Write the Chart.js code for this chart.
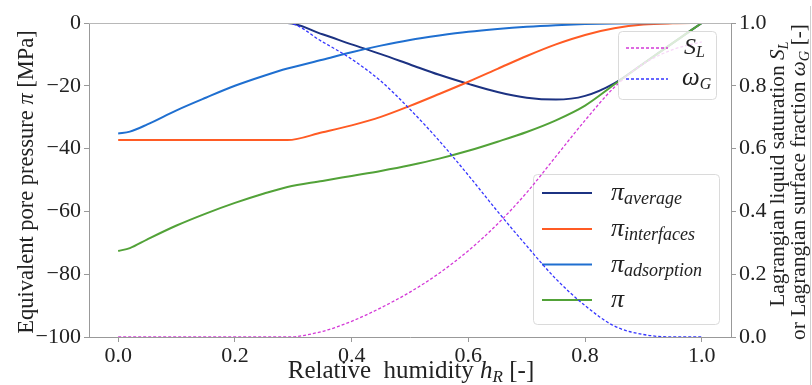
<!DOCTYPE html>
<html>
<head>
<meta charset="utf-8">
<title>Equivalent pore pressure vs relative humidity</title>
<script src="https://cdn.jsdelivr.net/npm/chart.js@4.4.1/dist/chart.umd.min.js"></script>
<style>
  html, body { margin: 0; padding: 0; background: #fff; }
</style>
</head>
<body>
<canvas id="myChart" width="812" height="385"></canvas>
<script>
// relative humidity h_R (x axis)
const hR = [0, 0.02, 0.05, 0.1, 0.15, 0.2, 0.25, 0.29, 0.35, 0.4, 0.45, 0.5, 0.55, 0.6, 0.65, 0.7, 0.75, 0.8, 0.85, 0.9, 0.95, 1.0];

// left axis, MPa
const piAverage    = [0, 0, 0, 0, 0, 0, 0, 0, -3.6, -6.8, -9.9, -13.2, -16.5, -19.4, -22.0, -23.8, -24.4, -23.2, -19.2, -12.9, -6.4, 0];
const piInterfaces = [-37.3, -37.3, -37.3, -37.3, -37.3, -37.3, -37.3, -37.3, -34.8, -32.6, -29.9, -26.4, -22.6, -18.7, -14.6, -10.5, -6.8, -3.8, -1.7, -0.5, -0.1, 0];
const piAdsorption = [-35.2, -34.6, -32.3, -27.8, -23.8, -20.0, -16.8, -14.5, -11.7, -9.3, -7.2, -5.4, -4.0, -2.8, -1.9, -1.2, -0.7, -0.35, -0.15, -0.05, 0, 0];
const piTotal      = [-72.6, -71.7, -68.9, -64.5, -60.7, -57.3, -54.3, -52.2, -50.3, -48.7, -47.1, -45.3, -43.2, -40.7, -37.8, -34.7, -31.0, -26.3, -19.6, -12.9, -6.4, 0];

// right axis, [-]
const satL   = [0, 0, 0, 0, 0, 0, 0, 0, 0.018, 0.05, 0.093, 0.143, 0.203, 0.275, 0.36, 0.46, 0.575, 0.69, 0.795, 0.87, 0.915, 0.94];
const omegaG = [1, 1, 1, 1, 1, 1, 1, 1, 0.94, 0.885, 0.815, 0.725, 0.625, 0.515, 0.40, 0.29, 0.185, 0.10, 0.035, 0.008, 0, 0];

const xTicks = [0, 0.2, 0.4, 0.6, 0.8, 1.0];
const yTicks = [-100, -80, -60, -40, -20, 0];
const y2Ticks = [0, 0.2, 0.4, 0.6, 0.8, 1.0];

const SERIF = '"Liberation Serif", "Times New Roman", serif';
const TEXT = '#222';
const SPINE = '#999';

const toPoints = arr => hR.map((x, i) => ({ x: x, y: arr[i] }));

function richWidth(ctx, parts) {
    let w = 0;
    parts.forEach(p => { ctx.font = p.font; w += ctx.measureText(p.text).width; });
    return w;
}

// draws a run of text pieces (normal / italic / subscript) on one baseline
function drawRich(ctx, parts, x, y, align) {
    let cx = align === 'left' ? x : x - richWidth(ctx, parts) / 2;
    ctx.textAlign = 'left';
    ctx.textBaseline = 'alphabetic';
    parts.forEach(p => {
        ctx.font = p.font;
        ctx.fillText(p.text, cx, y + (p.dy || 0));
        cx += ctx.measureText(p.text).width;
    });
}

const n = s => `${s}px ${SERIF}`;
const it = s => `italic ${s}px ${SERIF}`;

function legendBox(ctx, x, y, w, h) {
    ctx.save();
    ctx.beginPath();
    ctx.roundRect(x, y, w, h, 4);
    ctx.fillStyle = 'rgba(255,255,255,0.8)';
    ctx.fill();
    ctx.strokeStyle = '#dadada';
    ctx.lineWidth = 1;
    ctx.stroke();
    ctx.restore();
}

function legendEntry(ctx, e, x0, x1, tx) {
    ctx.save();
    ctx.beginPath();
    ctx.strokeStyle = e.color;
    ctx.lineWidth = e.width;
    ctx.setLineDash(e.dash || []);
    ctx.moveTo(x0, e.y);
    ctx.lineTo(x1, e.y);
    ctx.stroke();
    ctx.setLineDash([]);
    ctx.fillStyle = TEXT;
    drawRich(ctx, e.parts, tx, e.y + e.base, 'left');
    ctx.restore();
}

const colors = {
    average: '#1c3282',
    interfaces: '#ff5b24',
    adsorption: '#1f6fd0',
    total: '#52a238',
    sat: '#d43ad8',
    omega: '#3535ff'
};

const chartDecor = {
    id: 'chartDecor',
    afterDatasetDraw(chart, args) {
        // legend of the pressure axis sits under the right-axis curves
        if (args.index !== 2) return;
        const ctx = chart.ctx;
        legendBox(ctx, 533.5, 174.5, 186, 150);
        const entries = [
            { y: 193, color: colors.average, parts: [{ text: 'π', font: it(26) }, { text: 'average', font: it(18), dy: 4 }] },
            { y: 229, color: colors.interfaces, parts: [{ text: 'π', font: it(26) }, { text: 'interfaces', font: it(18), dy: 4 }] },
            { y: 264.5, color: colors.adsorption, parts: [{ text: 'π', font: it(26) }, { text: 'adsorption', font: it(18), dy: 4 }] },
            { y: 300, color: colors.total, parts: [{ text: 'π', font: it(26) }] }
        ];
        entries.forEach(e => {
            e.width = 2;
            e.base = 7;
            legendEntry(ctx, e, 542, 592, 611);
        });
    },
    afterDatasetsDraw(chart) {
        const ctx = chart.ctx;
        legendBox(ctx, 618.5, 31.5, 98, 68);
        legendEntry(ctx, { y: 48, color: colors.sat, width: 1.5, dash: [3, 2], base: 6,
            parts: [{ text: 'S', font: it(24) }, { text: 'L', font: it(16), dy: 3 }] }, 626, 668, 684);
        legendEntry(ctx, { y: 79, color: colors.omega, width: 1.5, dash: [3, 2], base: 6,
            parts: [{ text: 'ω', font: it(25) }, { text: 'G', font: it(16), dy: 4 }] }, 626, 668, 682);
    },
    afterDraw(chart) {
        const ctx = chart.ctx;
        const a = chart.chartArea;
        ctx.save();
        // top spine
        ctx.strokeStyle = '#b8b8b8';
        ctx.lineWidth = 1;
        ctx.beginPath();
        ctx.moveTo(a.left, a.top + 0.5);
        ctx.lineTo(a.right, a.top + 0.5);
        ctx.stroke();
        // edge of the original figure
        ctx.strokeStyle = '#cfcfcf';
        ctx.beginPath();
        ctx.moveTo(810.5, 6);
        ctx.lineTo(810.5, 385);
        ctx.stroke();

        ctx.fillStyle = TEXT;
        drawRich(ctx, [
            { text: 'Relative  humidity ', font: n(25) },
            { text: 'h', font: it(25) },
            { text: 'R', font: it(17), dy: 4 },
            { text: ' [-]', font: n(25) }
        ], 411, 378);

        ctx.save();
        ctx.translate(33, 182);
        ctx.rotate(-Math.PI / 2);
        drawRich(ctx, [
            { text: 'Equivalent pore pressure ', font: n(22.5) },
            { text: 'π', font: it(22.5) },
            { text: ' [MPa]', font: n(22.5) }
        ], 0, 0);
        ctx.restore();

        ctx.save();
        ctx.translate(784, 174);
        ctx.rotate(-Math.PI / 2);
        drawRich(ctx, [
            { text: 'Lagrangian liquid saturation ', font: n(21.3) },
            { text: 'S', font: it(21.3) },
            { text: 'L', font: it(14.5), dy: 4 }
        ], 0, 0);
        ctx.restore();

        ctx.save();
        ctx.translate(805, 182);
        ctx.rotate(-Math.PI / 2);
        drawRich(ctx, [
            { text: 'or Lagrangian surface fraction ', font: n(21.3) },
            { text: 'ω', font: it(21.3) },
            { text: 'G', font: it(14.5), dy: 4 },
            { text: ' [-]', font: n(21.3) }
        ], 0, 0);
        ctx.restore();
        ctx.restore();
    }
};

const minus = v => (v < 0 ? '\u2212' + Math.abs(v) : String(v));
const setTicks = list => scale => { scale.ticks = list.map(v => ({ value: v })); };

const axisCommon = {
    grid: { drawOnChartArea: false, drawTicks: true, tickLength: 5, color: SPINE },
    border: { display: true, color: SPINE, width: 1 }
};

document.addEventListener('DOMContentLoaded', () => {
    const ctx = document.getElementById('myChart').getContext('2d');

    const solid = (label, arr, color) => ({
        label: label,
        data: toPoints(arr),
        yAxisID: 'y',
        borderColor: color,
        borderWidth: 2,
        pointRadius: 0,
        cubicInterpolationMode: 'monotone',
        fill: false
    });
    const dashed = (label, arr, color) => ({
        label: label,
        data: toPoints(arr),
        yAxisID: 'y2',
        borderColor: color,
        borderWidth: 1.3,
        borderDash: [3, 2],
        pointRadius: 0,
        cubicInterpolationMode: 'monotone',
        fill: false
    });

    new Chart(ctx, {
        type: 'line',
        data: {
            // Chart.js paints the last dataset first, so the top-most series come first
            datasets: [
                dashed('ω_G', omegaG, colors.omega),
                dashed('S_L', satL, colors.sat),
                solid('π', piTotal, colors.total),
                solid('π_adsorption', piAdsorption, colors.adsorption),
                solid('π_interfaces', piInterfaces, colors.interfaces),
                solid('π_average', piAverage, colors.average)
            ]
        },
        options: {
            responsive: false,
            animation: false,
            layout: { padding: { top: 23, left: 0, right: 0, bottom: 0 } },
            plugins: {
                legend: { display: false },
                tooltip: { enabled: false }
            },
            scales: {
                x: {
                    type: 'linear',
                    min: -0.05,
                    max: 1.05,
                    afterBuildTicks: setTicks(xTicks),
                    afterFit: s => { s.height = 48; },
                    ticks: {
                        font: { family: SERIF, size: 22 },
                        color: TEXT,
                        padding: 1,
                        maxRotation: 0,
                        callback: v => v.toFixed(1)
                    },
                    ...axisCommon
                },
                y: {
                    position: 'left',
                    min: -100,
                    max: 0,
                    afterBuildTicks: setTicks(yTicks),
                    afterFit: s => { s.width = 89; },
                    ticks: {
                        font: { family: SERIF, size: 22 },
                        color: TEXT,
                        padding: 3,
                        callback: minus
                    },
                    ...axisCommon
                },
                y2: {
                    position: 'right',
                    min: 0,
                    max: 1,
                    afterBuildTicks: setTicks(y2Ticks),
                    afterFit: s => { s.width = 81; },
                    ticks: {
                        font: { family: SERIF, size: 22 },
                        color: TEXT,
                        padding: 3,
                        callback: v => v.toFixed(1)
                    },
                    ...axisCommon
                }
            }
        },
        plugins: [chartDecor]
    });
});
</script>
</body>
</html>
